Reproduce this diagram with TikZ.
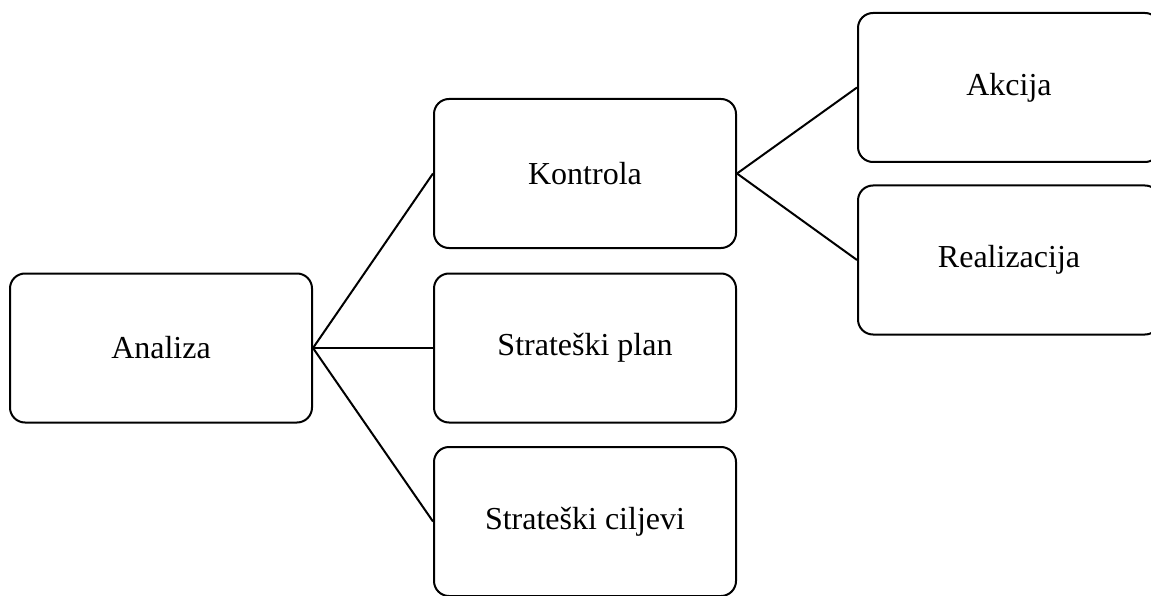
\documentclass[tikz,border=0pt]{standalone}
\usepackage{fontspec}
\setmainfont{Liberation Serif}
\begin{document}
\begin{tikzpicture}[x=1pt,y=-1pt,
  boxnode/.style={draw=black, line width=2pt, rounded corners=15pt, minimum width=302pt, minimum height=149pt, inner sep=0pt, font=\fontsize{32}{38}\selectfont},
  link/.style={draw=black, line width=2pt}]
\useasboundingbox (0,0) rectangle (1151,596);
\clip (0,0) rectangle (1151,596);
\node[boxnode] (an) at (161,348) {Analiza};
\node[boxnode] (ko) at (585,173.5) {Kontrola};
\node[boxnode] (sp) at (585,348) {Strateški plan};
\node[boxnode] (sc) at (585,521.5) {Strateški ciljevi};
\node[boxnode] (ak) at (1009,87.5) {Akcija};
\node[boxnode] (re) at (1009,260) {Realizacija};
\draw[link] (an.east) -- (ko.west);
\draw[link] (an.east) -- (sp.west);
\draw[link] (an.east) -- (sc.west);
\draw[link] (ko.east) -- (ak.west);
\draw[link] (ko.east) -- (re.west);
\end{tikzpicture}
\end{document}
